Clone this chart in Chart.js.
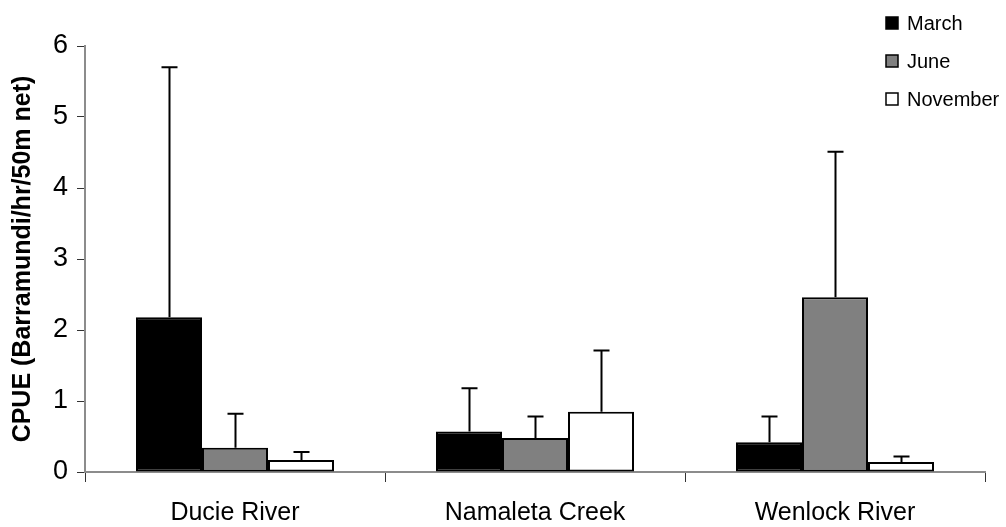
<!DOCTYPE html>
<html>
<head>
<meta charset="utf-8">
<script src="https://cdn.jsdelivr.net/npm/chart.js@4.4.0/dist/chart.umd.min.js"></script>
<style>
  html, body { margin: 0; padding: 0; background: #fff; }
  #wrap { width: 1006px; height: 527px; }
</style>
</head>
<body>
<div id="wrap"><canvas id="chart" width="1006" height="527"></canvas></div>
<script>
// --- data ---
const categories = ['Ducie River', 'Namaleta Creek', 'Wenlock River'];
const seriesNames = ['March', 'June', 'November'];
const marchMeans = [2.18, 0.57, 0.42];
const juneMeans = [0.34, 0.48, 2.46];
const novemberMeans = [0.17, 0.85, 0.14];
// top of each error bar
const marchUpper = [5.70, 1.18, 0.78];
const juneUpper = [0.82, 0.78, 4.51];
const novemberUpper = [0.28, 1.71, 0.22];
const yTicks = [0, 1, 2, 3, 4, 5, 6];

const FONT = "'Liberation Sans', Arial, sans-serif";

// error bars, upward only
const errorBars = {
    id: 'errorBars',
    afterDatasetsDraw(chart) {
        const ctx = chart.ctx;
        const y = chart.scales.y;
        ctx.save();
        ctx.strokeStyle = '#000';
        ctx.lineWidth = 2;
        chart.data.datasets.forEach((ds, i) => {
            const meta = chart.getDatasetMeta(i);
            meta.data.forEach((bar, j) => {
                const top = y.getPixelForValue(ds.upper[j]);
                const x = Math.round(bar.x) + 0.5;
                ctx.beginPath();
                ctx.moveTo(x, bar.y);
                ctx.lineTo(x, top);
                ctx.moveTo(x - 8, top);
                ctx.lineTo(x + 8, top);
                ctx.stroke();
            });
        });
        ctx.restore();
    }
};

// legend top right, small squares
const sideLegend = {
    id: 'sideLegend',
    afterDraw(chart) {
        const ctx = chart.ctx;
        ctx.save();
        ctx.font = '20px ' + FONT;
        ctx.textBaseline = 'middle';
        chart.data.datasets.forEach((ds, i) => {
            const cy = 23 + i * 38;
            ctx.fillStyle = ds.backgroundColor;
            ctx.fillRect(886, cy - 6, 12, 12);
            ctx.strokeStyle = '#000';
            ctx.lineWidth = 1.5;
            ctx.strokeRect(886, cy - 6, 12, 12);
            ctx.fillStyle = '#000';
            ctx.fillText(ds.label, 907, cy + 1);
        });
        ctx.restore();
    }
};

new Chart(document.getElementById('chart'), {
    type: 'bar',
    data: {
        labels: categories,
        datasets: [
            { label: seriesNames[0], data: marchMeans, upper: marchUpper, backgroundColor: '#000000' },
            { label: seriesNames[1], data: juneMeans, upper: juneUpper, backgroundColor: '#808080' },
            { label: seriesNames[2], data: novemberMeans, upper: novemberUpper, backgroundColor: '#ffffff' }
        ].map(d => Object.assign(d, {
            borderColor: '#000',
            borderWidth: 2,
            borderSkipped: false,
            categoryPercentage: 0.66,
            barPercentage: 1.0
        }))
    },
    options: {
        responsive: false,
        animation: false,
        devicePixelRatio: 1,
        layout: { padding: { top: 46, right: 21, left: 0, bottom: 0 } },
        plugins: {
            legend: { display: false },
            tooltip: { enabled: false }
        },
        scales: {
            x: {
                afterFit: s => { s.height = 55; },
                grid: { display: true, drawOnChartArea: false, offset: true, tickLength: 10, color: '#333', lineWidth: 1 },
                border: { color: '#8c8c8c', width: 2 },
                ticks: { color: '#000', font: { family: FONT, size: 25 }, padding: 16 }
            },
            y: {
                min: yTicks[0],
                max: yTicks[yTicks.length - 1],
                afterFit: s => { s.width = 85; },
                afterBuildTicks: s => { s.ticks = yTicks.map(v => ({ value: v })); },
                grid: { display: true, drawOnChartArea: false, tickLength: 8, color: '#333', lineWidth: 1 },
                border: { color: '#8c8c8c', width: 2 },
                ticks: { color: '#000', font: { family: FONT, size: 27 }, padding: 9 },
                title: {
                    display: true,
                    text: 'CPUE (Barramundi/hr/50m net)',
                    color: '#000',
                    font: { family: FONT, size: 25, weight: 'bold' },
                    padding: { top: 8, bottom: 0 }
                }
            }
        }
    },
    plugins: [errorBars, sideLegend]
});
</script>
</body>
</html>
